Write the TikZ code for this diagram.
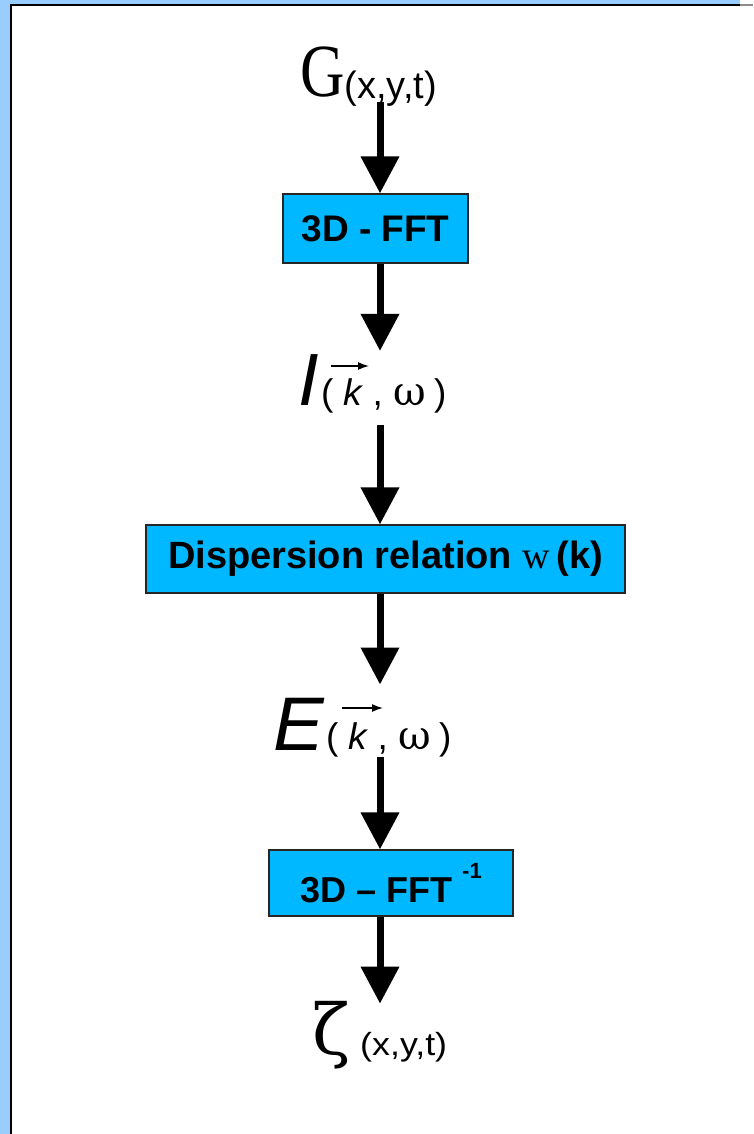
\documentclass[tikz,border=0pt]{standalone}
\usepackage{graphicx}
\usepackage{fontspec}
\setmainfont{Liberation Sans}
\newfontfamily\seriffont{Liberation Serif}
\newfontfamily\greekfont{DejaVu Serif}
\usetikzlibrary{arrows.meta}
\definecolor{frameblue}{RGB}{153,204,255}
\definecolor{boxblue}{RGB}{0,184,255}
\begin{document}
\begin{tikzpicture}[x=1pt,y=-1pt,
  procbox/.style={draw=black!85, line width=1.2pt, fill=boxblue, inner sep=0pt,
    font=\bfseries\fontsize{37}{37}\selectfont},
  flowarrow/.style={line width=7pt, -{Triangle[width=37pt,length=37pt]}},
  lbl/.style={anchor=base west, inner sep=0pt},
  karrow/.style={line width=1.4pt, -{Latex[length=11pt,width=8pt]}}
]
\useasboundingbox (0,0) rectangle (753,1134);
\fill[white] (0,0) rectangle (753,1134);
\fill[frameblue] (0,0) rectangle (740,5);
\fill[frameblue] (0,0) rectangle (11,1134);
\draw[line width=1.5pt, black!45] (740,5) -- (753,5);
\draw[line width=2pt] (11,1134) -- (11,5) -- (740,5);

\coordinate (ax) at (380,0);

% labels
\node[lbl] (G) at (300,97) {\scalebox{0.82}[1]{\seriffont\fontsize{75}{75}\selectfont G}\raisebox{-2pt}{\fontsize{38}{38}\selectfont(x,y,t)}};

\node[lbl] (I) at (298,405) {\itshape\fontsize{74}{74}\selectfont I};
\node[lbl] (Isub) at (321,405) {\fontsize{37}{37}\selectfont( {\itshape k} , {\greekfont\fontsize{40}{40}\selectfont ω}\hspace{-2pt} )};
\draw[karrow] (331,366) -- (369,366);

\node[lbl] (E) at (273,750) {\itshape\fontsize{76}{76}\selectfont E};
\node[lbl] (Esub) at (326,749) {\fontsize{37}{37}\selectfont( {\itshape k} , {\greekfont\fontsize{40}{40}\selectfont ω}\hspace{-2pt} )};
\draw[karrow] (342,708) -- (383,708);

\node[lbl] (zeta) at (312,1054) {\greekfont\fontsize{70}{70}\selectfont ζ};
\node[lbl] (zsub) at (360,1055) {\scalebox{1.12}[1]{\fontsize{32}{32}\selectfont(x,y,t)}};

% boxes
\node[procbox, minimum width=185pt, minimum height=69pt] (fft) at (375.5,228.5) {3D - FFT};
\node[procbox, minimum width=479pt, minimum height=68pt, font=\bfseries\fontsize{38}{38}\selectfont] (disp) at (385.5,559)
  {Dispersion relation {\seriffont\mdseries w}\,(k)};
\node[procbox, minimum width=244pt, minimum height=66pt, font=\bfseries\fontsize{36}{36}\selectfont] (ifft) at (391,883)
  {3D – FFT\ \raisebox{24pt}{\fontsize{22}{22}\selectfont -1}};

% arrows
\draw[flowarrow, shorten <=-5pt] (G.south -| ax) -- (fft.north -| ax);
\draw[flowarrow, shorten >=3pt] (fft.south -| ax) -- (I.north -| ax);
\draw[flowarrow, shorten <=12pt] (Isub.south -| ax) -- (disp.north -| ax);
\draw[flowarrow, shorten >=13pt] (disp.south -| ax) -- (E.north -| ax);
\draw[flowarrow] (Esub.south -| ax) -- (ifft.north -| ax);
\draw[flowarrow, shorten >=-3pt] (ifft.south -| ax) -- (zeta.north -| ax);
\end{tikzpicture}
\end{document}
